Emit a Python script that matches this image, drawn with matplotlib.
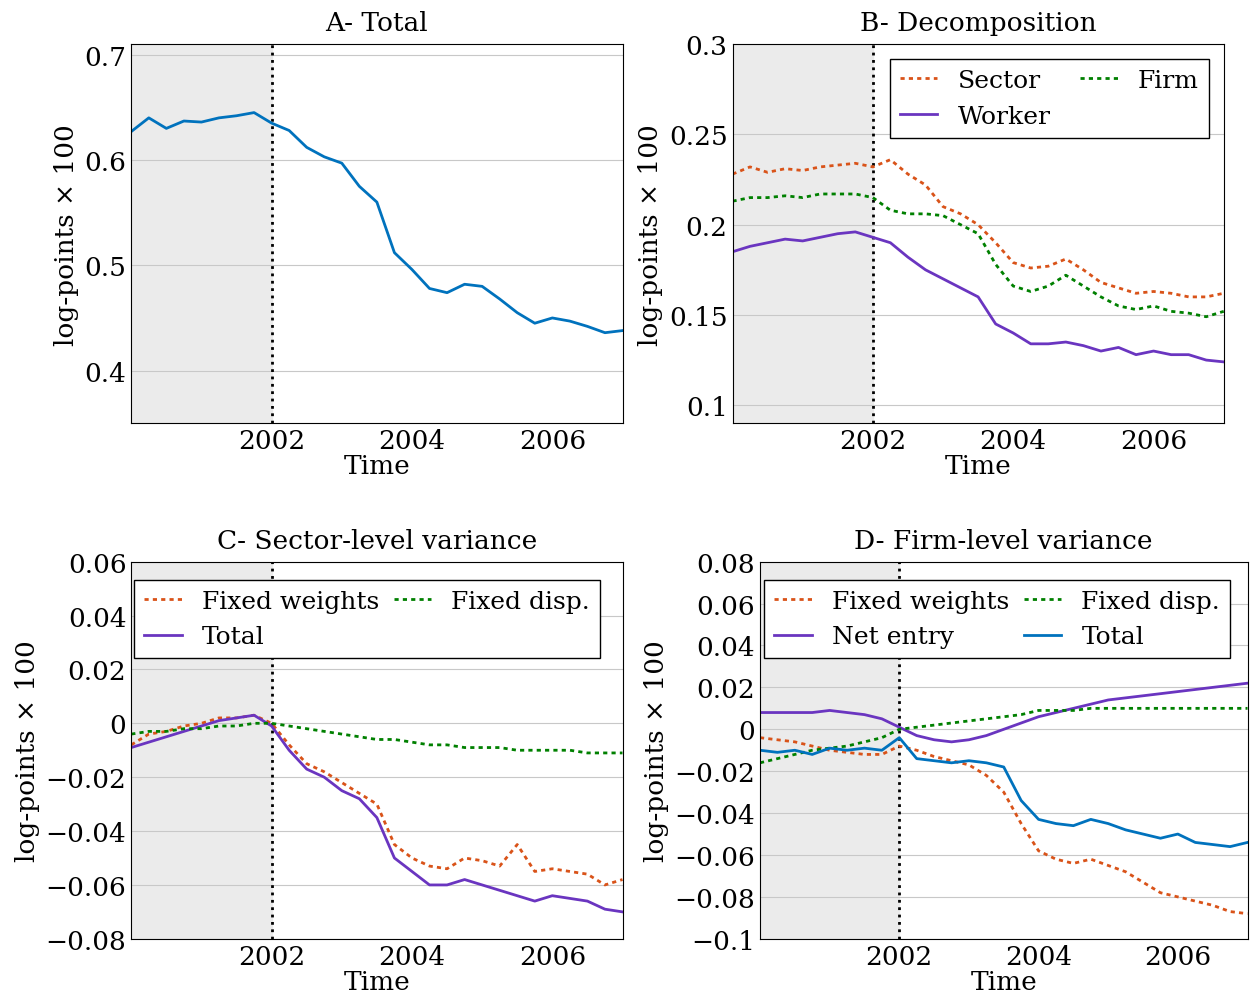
import numpy as np
import matplotlib.pyplot as plt

plt.rcParams['font.family'] = 'DejaVu Serif'
plt.rcParams['font.size'] = 17

t = np.arange(29) / 4.0 + 2000

total_a = [.627, .640, .630, .637, .636, .640, .642, .645, .635, .628, .612, .603, .597, .575, .560, .512,
           .496, .478, .474, .482, .480, .468, .455, .445, .450, .447, .442, .436, .438]

sector = [.228, .232, .229, .231, .230, .232, .233, .234, .232, .236, .228, .222, .210, .206, .200, .190,
          .179, .176, .177, .181, .175, .168, .165, .162, .163, .162, .160, .160, .162]
firm = [.213, .215, .215, .216, .215, .217, .217, .217, .215, .208, .206, .206, .205, .200, .195, .178,
        .166, .163, .166, .172, .166, .160, .155, .153, .155, .152, .151, .149, .152]
worker = [.185, .188, .190, .192, .191, .193, .195, .196, .193, .190, .182, .175, .170, .165, .160, .145,
          .140, .134, .134, .135, .133, .130, .132, .128, .130, .128, .128, .125, .124]

c_total = [-.009, -.007, -.005, -.003, -.001, .001, .002, .003, -.001, -.010, -.017, -.020, -.025, -.028, -.035, -.050,
           -.055, -.060, -.060, -.058, -.060, -.062, -.064, -.066, -.064, -.065, -.066, -.069, -.070]
c_fw = [-.008, -.004, -.003, -.001, 0, .002, .002, .003, 0, -.008, -.015, -.018, -.022, -.026, -.030, -.045,
        -.050, -.053, -.054, -.050, -.051, -.053, -.045, -.055, -.054, -.055, -.056, -.060, -.058]
c_fd = [-.004, -.003, -.003, -.002, -.002, -.001, -.001, 0, 0, -.001, -.002, -.003, -.004, -.005, -.006, -.006,
        -.007, -.008, -.008, -.009, -.009, -.009, -.010, -.010, -.010, -.010, -.011, -.011, -.011]

d_ne = [.008, .008, .008, .008, .009, .008, .007, .005, .001, -.003, -.005, -.006, -.005, -.003, 0, .003,
        .006, .008, .010, .012, .014, .015, .016, .017, .018, .019, .020, .021, .022]
d_fd = [-.016, -.014, -.012, -.010, -.009, -.008, -.006, -.004, 0, .001, .002, .003, .004, .005, .006, .007,
        .009, .009, .009, .010, .010, .010, .010, .010, .010, .010, .010, .010, .010]
d_total = [-.010, -.011, -.010, -.012, -.009, -.010, -.009, -.010, -.004, -.014, -.015, -.016, -.015, -.016, -.018, -.034,
           -.043, -.045, -.046, -.043, -.045, -.048, -.050, -.052, -.050, -.054, -.055, -.056, -.054]
d_fw = [-.004, -.005, -.006, -.008, -.010, -.011, -.012, -.012, -.008, -.010, -.013, -.015, -.017, -.022, -.030, -.045,
        -.058, -.062, -.064, -.062, -.065, -.068, -.073, -.078, -.080, -.082, -.084, -.087, -.088]

blue, orange, green, purple = '#0072BD', '#D95319', '#008000', '#6A35C0'
dot = (0, (1.5, 1.5))

fig = plt.figure(figsize=(12.5, 10.03), dpi=100)
axA = fig.add_axes([.105, .577, .393, .378])
axB = fig.add_axes([.586, .577, .393, .378])
axC = fig.add_axes([.105, .063, .393, .376])
axD = fig.add_axes([.608, .063, .39, .376])


def style(ax, title, ylim, yticks, ylabels):
    ax.axvspan(2000, 2002, color='#ebebeb', zorder=0)
    ax.axvline(2002, color='k', ls=':', lw=2)
    ax.set_xlim(2000, 2007)
    ax.set_xticks([2002, 2004, 2006])
    ax.set_ylim(*ylim)
    ax.set_yticks(yticks)
    ax.set_yticklabels(ylabels, fontsize=19)
    ax.tick_params(axis='x', labelsize=19)
    ax.tick_params(direction='in', length=0)
    ax.grid(axis='y', color='#c8c8c8', lw=0.8)
    ax.set_axisbelow(True)
    ax.set_title(title, fontsize=19, pad=10)
    ax.set_xlabel('Time', fontsize=19, labelpad=0)
    ax.set_ylabel('log-points × 100', fontsize=19)


leg = dict(ncol=2, fancybox=False, edgecolor='k', fontsize=18, handlelength=1.5, framealpha=1)

style(axA, 'A- Total', (.35, .71), [.4, .5, .6, .7], ['0.4', '0.5', '0.6', '0.7'])
axA.plot(t, total_a, color=blue, lw=2)

style(axB, 'B- Decomposition', (.09, .3), [.1, .15, .2, .25, .3], ['0.1', '0.15', '0.2', '0.25', '0.3'])
axB.plot(t, sector, color=orange, ls=dot, lw=2, label='Sector')
axB.plot(t, worker, color=purple, lw=2, label='Worker')
axB.plot(t, firm, color=green, ls=dot, lw=2, label='Firm')
axB.legend(loc='upper right', columnspacing=1.2, borderaxespad=0.6, **leg)

cy = [-.08, -.06, -.04, -.02, 0, .02, .04, .06]
style(axC, 'C- Sector-level variance', (-.08, .06), cy,
      ['−0.08', '−0.06', '−0.04', '−0.02', '0', '0.02', '0.04', '0.06'])
axC.plot(t, c_fw, color=orange, ls=dot, lw=2, label='Fixed weights')
axC.plot(t, c_total, color=purple, lw=2, label='Total')
axC.plot(t, c_fd, color=green, ls=dot, lw=2, label='Fixed disp.')
axC.legend(loc='upper right', bbox_to_anchor=(0.98, 0.985), columnspacing=0.6, **leg)

dy = [-.1, -.08, -.06, -.04, -.02, 0, .02, .04, .06, .08]
style(axD, 'D- Firm-level variance', (-.1, .08), dy,
      ['−0.1', '−0.08', '−0.06', '−0.04', '−0.02', '0', '0.02', '0.04', '0.06', '0.08'])
axD.plot(t, d_fw, color=orange, ls=dot, lw=2, label='Fixed weights')
axD.plot(t, d_ne, color=purple, lw=2, label='Net entry')
axD.plot(t, d_fd, color=green, ls=dot, lw=2, label='Fixed disp.')
axD.plot(t, d_total, color=blue, lw=2, label='Total')
axD.legend(loc='upper right', bbox_to_anchor=(0.99, 0.985), columnspacing=0.6, **leg)

fig.savefig('out.png')
